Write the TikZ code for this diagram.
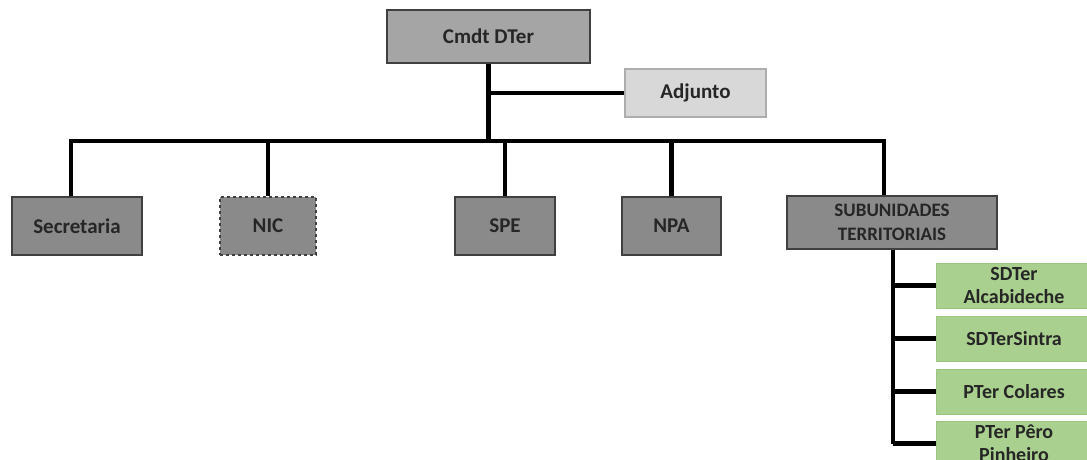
\documentclass[tikz,border=0pt]{standalone}
\usepackage{fontspec}
\setmainfont{Carlito}
\usetikzlibrary{positioning}

\definecolor{boxgray}{RGB}{138,138,138}
\definecolor{topgray}{RGB}{165,165,165}
\definecolor{adjgray}{RGB}{216,216,216}
\definecolor{subgreen}{RGB}{169,208,142}
\definecolor{greenline}{RGB}{112,173,71}
\definecolor{boxline}{RGB}{64,64,64}

\begin{document}
\begin{tikzpicture}[x=1pt,y=1pt]
        \tikzset{unit/.style={draw=boxline, line width=1.2pt, rectangle, align=center, font=\fontsize{21}{24}\selectfont\bfseries, text=black!85, inner sep=0pt},
        gunit/.style={unit, fill=boxgray, minimum height=58pt},
        hunit/.style={draw=greenline!70, line width=1pt, fill=subgreen, rectangle, align=center, font=\fontsize{20}{23}\selectfont\bfseries, text=black!85, minimum width=156pt, minimum height=45pt, inner sep=0pt},
        link/.style={line width=4.5pt, black}
        }
        \useasboundingbox (0,0) rectangle (1087,459);
        \node [unit, fill=topgray, minimum width=203pt, minimum height=53pt] (cmdt) at (488.5,422.5) {Cmdt DTer};
        \node [unit, fill=adjgray, draw=adjgray!80!black, minimum width=141pt, minimum height=48pt] (adj) at (695.5,366) {Adjunto};
        \node [gunit, minimum width=130pt] (sec) at (77,233) {Secretaria};
        \node [gunit, dashed, minimum width=96pt] (nic) at (268,233) {NIC};
        \node [gunit, minimum width=100pt] (spe) at (505,233) {SPE};
        \node [gunit, minimum width=99pt] (npa) at (671.5,233) {NPA};
        \node [unit, fill=boxgray, minimum width=210pt, minimum height=53pt, font=\fontsize{19}{24}\selectfont\bfseries] (sub) at (892,236.5) {SUBUNIDADES\\TERRITORIAIS};
        \node [hunit] (alc) at (1014,173.5) {SDTer\\Alcabideche};
        \node [hunit, below =7pt of alc] (sin) {SDTerSintra};
        \node [hunit, below =7pt of sin] (col) {PTer Colares};
        \node [hunit, below =6pt of col] (pin) {PTer Pêro\\Pinheiro};
        \coordinate (bar) at (0,318);  %% level of the main bar
        \coordinate (trunk) at (893,0);  %% line of the subunits

%% paths
        \path[draw,link] (cmdt.south) -- (cmdt.south |- bar)
                    (adj.west) -- (adj.west -| cmdt.south)
                    ([xshift=-6pt]sec.north) |- ([xshift=-8pt]sub.north |- bar) -- ([xshift=-8pt]sub.north)
                    (nic.north) -- (nic.north |- bar)
                    (spe.north) -- (spe.north |- bar)
                    (npa.north) -- (npa.north |- bar)
                    ;
        \path[draw,link] (sub.south -| trunk) -- (trunk |- pin.west)
                    (alc.west) -- (alc.west -| trunk)
                    (sin.west) -- (sin.west -| trunk)
                    (col.west) -- (col.west -| trunk)
                    (pin.west) -- (pin.west -| trunk)
                    ;
    \end{tikzpicture}
\end{document}
